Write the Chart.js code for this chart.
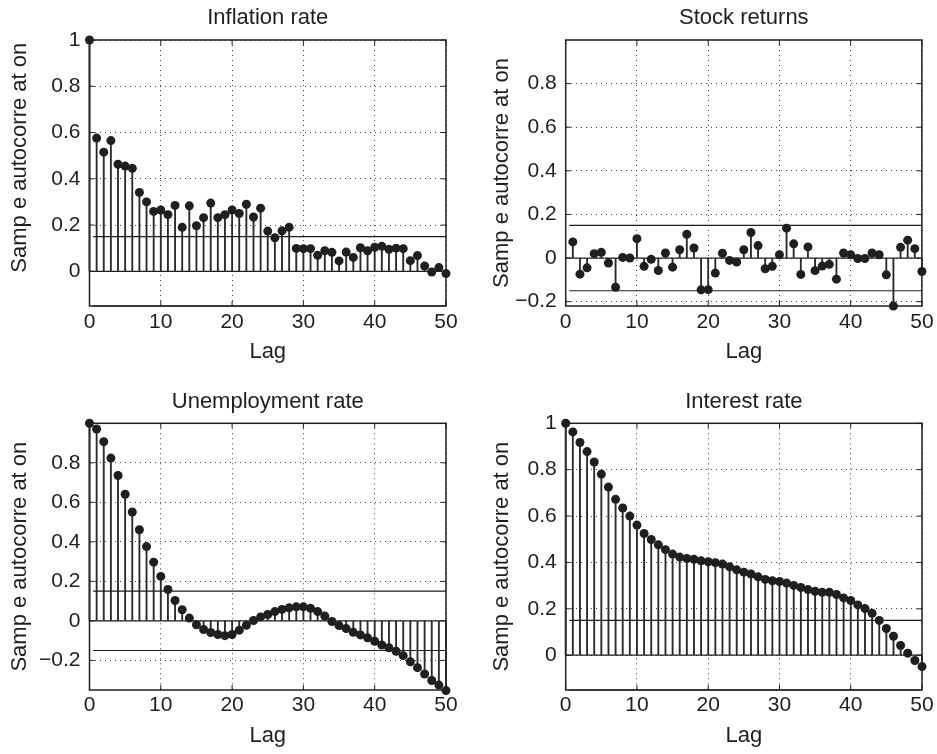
<!DOCTYPE html>
<html>
<head>
<meta charset="utf-8">
<script src="https://cdn.jsdelivr.net/npm/chart.js@4.4.1/dist/chart.umd.min.js"></script>
<style>
  html, body { margin: 0; padding: 0; background: #fff; }
  #wrap { position: relative; width: 937px; height: 754px; overflow: hidden; }
  #wrap canvas { position: absolute; }
</style>
</head>
<body>
<div id="wrap">
  <canvas id="inflation" width="468" height="377" style="left:0;top:0"></canvas>
  <canvas id="stock" width="469" height="377" style="left:468px;top:0"></canvas>
  <canvas id="unemployment" width="468" height="377" style="left:0;top:377px"></canvas>
  <canvas id="interest" width="469" height="377" style="left:468px;top:377px"></canvas>
</div>
<script>
// ---- data -----------------------------------------------------------
const lags = [0, 1, 2, 3, 4, 5, 6, 7, 8, 9, 10, 11, 12, 13, 14, 15, 16, 17, 18, 19, 20,
  21, 22, 23, 24, 25, 26, 27, 28, 29, 30, 31, 32, 33, 34, 35, 36, 37, 38, 39, 40,
  41, 42, 43, 44, 45, 46, 47, 48, 49, 50];

const inflationAcf = [1.0, 0.576, 0.515, 0.565, 0.463, 0.455, 0.445, 0.341, 0.30, 0.259,
  0.265, 0.245, 0.285, 0.19, 0.283, 0.197, 0.232, 0.295, 0.232, 0.245,
  0.265, 0.25, 0.29, 0.235, 0.273, 0.174, 0.145, 0.175, 0.19, 0.099,
  0.098, 0.098, 0.069, 0.089, 0.082, 0.045, 0.083, 0.06, 0.102, 0.089,
  0.104, 0.108, 0.095, 0.10, 0.098, 0.046, 0.068, 0.023, -0.003, 0.016, -0.01];

// stock returns start at lag 1 (lag 0 is off the top of that panel)
const stockAcf = [0.074, -0.074, -0.045, 0.02, 0.026, -0.023, -0.134, 0.003, 0.0, 0.089,
  -0.038, -0.006, -0.057, 0.023, -0.042, 0.038, 0.109, 0.046, -0.146, -0.145,
  -0.069, 0.022, -0.011, -0.018, 0.038, 0.117, 0.057, -0.049, -0.038, 0.015,
  0.137, 0.065, -0.075, 0.051, -0.058, -0.037, -0.029, -0.097, 0.023, 0.015,
  -0.002, -0.002, 0.023, 0.015, -0.077, -0.22, 0.049, 0.082, 0.043, -0.062];

const unemploymentAcf = [1.0, 0.971, 0.907, 0.824, 0.736, 0.641, 0.551, 0.461, 0.376, 0.297,
  0.225, 0.159, 0.103, 0.056, 0.014, -0.02, -0.044, -0.059, -0.069, -0.075,
  -0.069, -0.047, -0.022, 0.002, 0.02, 0.032, 0.047, 0.058, 0.066, 0.071,
  0.071, 0.064, 0.047, 0.024, -0.003, -0.024, -0.039, -0.058, -0.071, -0.086,
  -0.103, -0.122, -0.136, -0.154, -0.176, -0.207, -0.237, -0.269, -0.302, -0.325, -0.353];

const interestAcf = [1.0, 0.963, 0.917, 0.878, 0.833, 0.781, 0.725, 0.672, 0.635, 0.60,
  0.561, 0.525, 0.499, 0.476, 0.455, 0.436, 0.423, 0.417, 0.414, 0.407,
  0.403, 0.399, 0.393, 0.381, 0.368, 0.358, 0.35, 0.338, 0.327, 0.321,
  0.318, 0.311, 0.301, 0.292, 0.283, 0.276, 0.271, 0.271, 0.262, 0.247,
  0.236, 0.217, 0.201, 0.181, 0.15, 0.115, 0.082, 0.042, 0.009, -0.023, -0.049];

const confBound = 0.15;           // +/- significance band
const boundStartLag = 0.5;

const xTicks = [0, 10, 20, 30, 40, 50];
const yTicksPosOnly = [0, 0.2, 0.4, 0.6, 0.8, 1];
const yTicksNoOne = [-0.2, 0, 0.2, 0.4, 0.6, 0.8];

const yLabel = 'Samp e autocorre at on';
const xLabel = 'Lag';

// ---- look -----------------------------------------------------------
const INK = '#1f1f1f';
const FONT = "'Liberation Sans', Arial, Helvetica, sans-serif";
Chart.defaults.font.family = FONT;
Chart.defaults.color = INK;

// column / row geometry so the four plot boxes land where the figure has them
const COLS = {
  left:  { axisW: 89.5, labelPad: 6.8,  padRight: 22 },
  right: { axisW: 97.7, labelPad: 20.8, padRight: 15 }
};
const ROWS = {
  top:    { titlePad: { top: 4.8, bottom: 8.8 },  axisH: 71, tickPad: 3.4, lagPad: 11.8 },
  bottom: { titlePad: { top: 11.8, bottom: 8.1 }, axisH: 64, tickPad: 2.4, lagPad: 5 }
};

function fmtTick(v) {
  const s = String(Math.round(v * 10) / 10);
  return s.replace('-', '\u2212');
}

// axes box with small inward ticks, drawn under the stems
const framePlugin = {
  id: 'frame',
  beforeDatasetsDraw(chart) {
    const { ctx, chartArea: a, scales: { x, y } } = chart;
    ctx.save();
    ctx.strokeStyle = INK;
    ctx.lineWidth = 1.5;
    ctx.strokeRect(a.left, a.top, a.right - a.left, a.bottom - a.top);
    ctx.lineWidth = 1;
    ctx.beginPath();
    x.ticks.forEach(function (t) {
      const px = x.getPixelForValue(t.value);
      ctx.moveTo(px, a.bottom); ctx.lineTo(px, a.bottom - 5);
      ctx.moveTo(px, a.top); ctx.lineTo(px, a.top + 5);
    });
    y.ticks.forEach(function (t) {
      const py = y.getPixelForValue(t.value);
      ctx.moveTo(a.left, py); ctx.lineTo(a.left + 5, py);
      ctx.moveTo(a.right, py); ctx.lineTo(a.right - 5, py);
    });
    ctx.stroke();
    ctx.restore();
  }
};

function makePanel(id, p) {
  const col = COLS[p.col], row = ROWS[p.row];
  const pts = p.lags.map(function (l, i) { return { x: l, y: p.values[i] }; });
  const lastLag = xTicks[xTicks.length - 1];

  const lineDs = function (data, order) {
    return {
      type: 'line', data: data, order: order, clip: false,
      borderColor: INK, borderWidth: 1.2, pointRadius: 0, fill: false
    };
  };

  return new Chart(document.getElementById(id), {
    type: 'bar',
    data: {
      datasets: [
        {
          type: 'line', data: pts, order: 0, clip: false, showLine: false,
          pointRadius: 4.5, pointBackgroundColor: INK, pointBorderWidth: 0
        },
        lineDs([{ x: 0, y: 0 }, { x: lastLag, y: 0 }], 1),
        lineDs([{ x: boundStartLag, y: confBound }, { x: lastLag, y: confBound }], 1),
        lineDs([{ x: boundStartLag, y: -confBound }, { x: lastLag, y: -confBound }], 1),
        {
          type: 'bar', data: pts, order: 2, clip: false,
          backgroundColor: '#2a2a2a', borderWidth: 0, barThickness: 1.2
        }
      ]
    },
    options: {
      responsive: false,
      animation: false,
      events: [],
      layout: { padding: { left: 0, right: col.padRight, top: 0, bottom: 0 } },
      plugins: {
        legend: { display: false },
        tooltip: { enabled: false },
        title: {
          display: true, text: p.title, fullSize: false, color: INK,
          font: { size: 22, weight: 'normal' }, padding: row.titlePad
        }
      },
      scales: {
        x: {
          type: 'linear', min: 0, max: lastLag, offset: false,
          afterBuildTicks: function (s) { s.ticks = xTicks.map(function (v) { return { value: v }; }); },
          afterFit: function (s) { s.height = row.axisH; },
          grid: { color: '#444', lineWidth: 1, drawTicks: false, offset: false },
          border: { display: false, dash: [1, 4] },
          ticks: { padding: row.tickPad, font: { size: 21 }, maxRotation: 0, color: INK },
          title: {
            display: true, text: xLabel, color: INK,
            font: { size: 22 }, padding: { top: 0, bottom: row.lagPad }
          }
        },
        y: {
          type: 'linear', min: p.yMin, max: p.yMax,
          afterBuildTicks: function (s) { s.ticks = p.yTicks.map(function (v) { return { value: v }; }); },
          afterFit: function (s) { s.width = col.axisW; },
          grid: { color: '#444', lineWidth: 1, drawTicks: false },
          border: { display: false, dash: [1, 4] },
          ticks: { padding: 9, font: { size: 21 }, color: INK, callback: fmtTick },
          title: {
            display: true, text: p.yLabel || yLabel, color: INK,
            font: { size: 22 }, padding: { top: col.labelPad, bottom: 0 }
          }
        }
      }
    },
    plugins: [framePlugin]
  });
}

makePanel('inflation', {
  title: 'Inflation rate', col: 'left', row: 'top',
  lags: lags, values: inflationAcf, yMin: -0.15, yMax: 1, yTicks: yTicksPosOnly,
  yLabel: '     ' + yLabel
});
makePanel('stock', {
  title: 'Stock returns', col: 'right', row: 'top',
  lags: lags.slice(1), values: stockAcf, yMin: -0.22, yMax: 1, yTicks: yTicksNoOne
});
makePanel('unemployment', {
  title: 'Unemployment rate', col: 'left', row: 'bottom',
  lags: lags, values: unemploymentAcf, yMin: -0.35, yMax: 1, yTicks: yTicksNoOne
});
makePanel('interest', {
  title: 'Interest rate', col: 'right', row: 'bottom',
  lags: lags, values: interestAcf, yMin: -0.15, yMax: 1, yTicks: yTicksPosOnly
});
</script>
</body>
</html>
